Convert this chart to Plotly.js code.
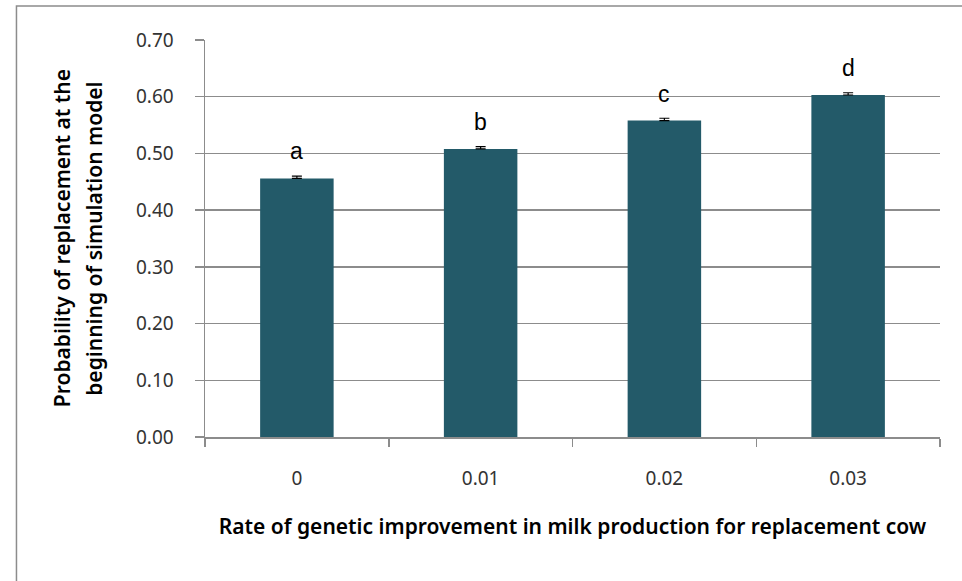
<!DOCTYPE html>
<html>
<head>
<meta charset="utf-8">
<script src="https://cdn.plot.ly/plotly-3.0.1.min.js"></script>
<style>
  html, body { margin: 0; padding: 0; background: #ffffff; }
  #chart { width: 962px; height: 581px; }
</style>
</head>
<body>
<div id="chart"></div>
<script>
// Rate of genetic improvement (categories) and replacement probability
const rates = ['0', '0.01', '0.02', '0.03'];
const probability = [0.456, 0.508, 0.558, 0.603];
const stdError = [0.004, 0.004, 0.004, 0.004];
const groupLetters = ['a', 'b', 'c', 'd'];
const yTicks = [0, 0.1, 0.2, 0.3, 0.4, 0.5, 0.6, 0.7];

const barColor = '#235a69';
const gridColor = '#8c8c8c';
const font = 'Noto Sans, Open Sans, sans-serif';

const trace = {
  type: 'bar',
  x: rates,
  y: probability,
  width: 0.4,
  marker: { color: barColor, line: { width: 0 } },
  error_y: { type: 'data', array: stdError, symmetric: false, arrayminus: stdError.map(() => 0),
             color: '#000000', thickness: 1.2, width: 5 },
  hoverinfo: 'x+y'
};

// Significance letters above each bar (category index keeps '0.01' etc. from being read as numbers)
const letterNotes = rates.map((r, i) => ({
  x: i, y: probability[i],
  xref: 'x', yref: 'y',
  text: groupLetters[i],
  showarrow: false,
  yanchor: 'middle',
  yshift: 27,
  font: { family: 'Liberation Sans, Arial, sans-serif', size: 23, color: '#000000' }
}));

const yTitleLines = [
  { text: 'Probability of replacement at the', x: -0.195 },
  { text: 'beginning of simulation model', x: -0.152 }
].map(l => ({
  text: l.text, x: l.x, y: 0.5, xref: 'paper', yref: 'paper',
  textangle: -90, showarrow: false, xanchor: 'center', yanchor: 'middle',
  font: { family: font, size: 21, color: '#000000', weight: 600 }
}));

const layout = {
  width: 962, height: 581,
  margin: { l: 205, r: 22, t: 40, b: 144 },
  paper_bgcolor: '#ffffff',
  plot_bgcolor: '#ffffff',
  showlegend: false,
  bargap: 0.6,
  xaxis: {
    type: 'category',
    tickson: 'boundaries',
    ticks: 'outside', ticklen: 8, tickcolor: gridColor, tickwidth: 1.5,
    showline: true, linecolor: gridColor, linewidth: 1.5,
    showgrid: false,
    tickfont: { family: font, size: 19, color: '#333333' },
    ticklabelstandoff: 24,
    title: { text: 'Rate of genetic improvement in milk production for replacement cow',
             font: { family: font, size: 21, color: '#000000', weight: 600 }, standoff: 29 }
  },
  yaxis: {
    range: [0, 0.7],
    tickvals: yTicks,
    tickformat: '.2f',
    ticks: 'outside', ticklen: 9, tickcolor: gridColor, tickwidth: 1.5,
    showline: true, linecolor: gridColor, linewidth: 1.5,
    showgrid: true, gridcolor: gridColor, gridwidth: 1.5,
    zeroline: false,
    tickfont: { family: font, size: 19, color: '#333333' },
    ticklabelstandoff: 17
  },
  annotations: letterNotes.concat(yTitleLines),
  shapes: [{
    type: 'rect', xref: 'paper', yref: 'paper',
    x0: -0.2565, x1: 1.05, y0: -0.45, y1: 1.0855,
    line: { color: '#8c8c8c', width: 1.5 }, fillcolor: 'rgba(0,0,0,0)', layer: 'below'
  }]
};

Plotly.newPlot('chart', [trace], layout, { displayModeBar: false, staticPlot: true });
</script>
</body>
</html>
